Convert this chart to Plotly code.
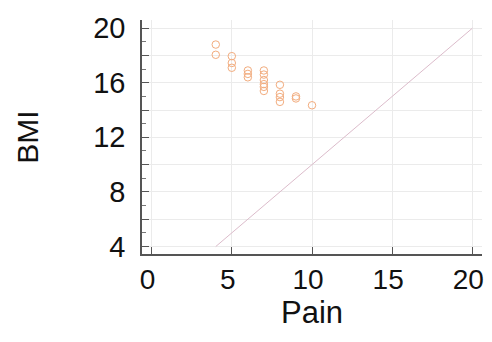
import plotly.graph_objects as go

pain = [4, 4, 5, 5, 5, 6, 6, 6, 7, 7, 7, 7, 7, 7, 8, 8, 8, 8, 9, 9, 10]
bmi = [18.8, 18.05, 17.95, 17.45, 17.1, 16.9, 16.65, 16.4, 16.9, 16.6, 16.2, 15.9, 15.7, 15.4,
       15.85, 15.2, 14.95, 14.6, 15.0, 14.85, 14.35]
ref_x = [4, 20]
ref_y = [4, 20]

y_tickvals = [4, 6, 8, 10, 12, 14, 16, 18, 20]
y_ticktext = ["4", "", "8", "", "12", "", "16", "", "20"]
x_tickvals = [0, 5, 10, 15, 20]

fig = go.Figure()
fig.add_trace(go.Scatter(x=ref_x, y=ref_y, mode="lines",
                         line=dict(color="#dcbccb", width=1), showlegend=False))
fig.add_trace(go.Scatter(x=pain, y=bmi, mode="markers",
                         marker=dict(symbol="circle-open", size=7.5, color="#f2ac7e",
                                     line=dict(width=1, color="#f2ac7e")),
                         showlegend=False))

font = dict(family="Liberation Sans, Arial, sans-serif", color="#111111")
fig.update_layout(
    width=484, height=322,
    margin=dict(l=134, r=10, t=12, b=76),
    paper_bgcolor="white", plot_bgcolor="white",
    font=font,
    xaxis=dict(
        range=[-0.6, 20.6], tickvals=x_tickvals, ticks="inside", ticklen=7,
        tickwidth=1, tickcolor="#555555", automargin=False,
        showline=True, linecolor="#555555", linewidth=1.5, mirror=False,
        showgrid=True, gridcolor="#ebebeb", gridwidth=1, zeroline=False,
        tickfont=dict(size=28), ticklabelstandoff=0, ticklabelshift=-4,
        ticklabeloverflow="allow",
        title=dict(text="Pain", font=dict(size=31), standoff=4),
    ),
    yaxis=dict(
        range=[3.45, 20.6], tickvals=y_tickvals, ticktext=y_ticktext,
        ticks="inside", ticklen=7, tickwidth=1, tickcolor="#555555", automargin=False,
        minor=dict(dtick=1, tick0=0, ticks="inside", ticklen=4, tickcolor="#777777", showgrid=False),
        showline=True, linecolor="#555555", linewidth=1.5, mirror=False,
        showgrid=True, gridcolor="#ebebeb", gridwidth=1, zeroline=False,
        tickfont=dict(size=29), ticklabelstandoff=9,
        title=dict(text="BMI", font=dict(size=30), standoff=46),
    ),
)
fig.write_html("out.html")
